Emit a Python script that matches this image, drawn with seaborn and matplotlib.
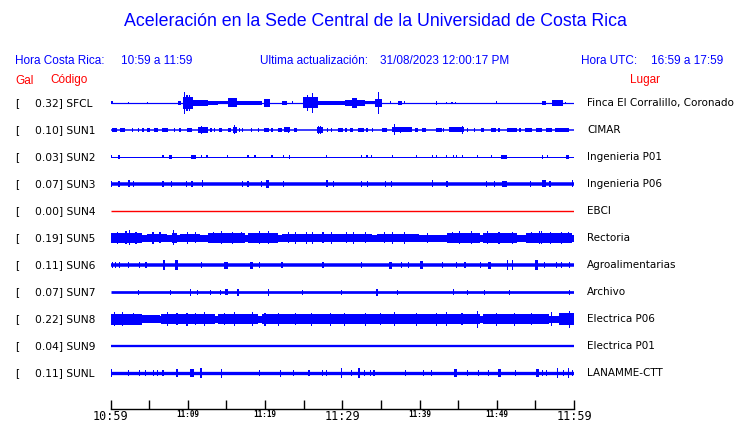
import matplotlib
matplotlib.use("Agg")
import matplotlib.pyplot as plt
import matplotlib.transforms as mtransforms
import seaborn as sns

# estaciones y valores
estaciones = ["SFCL", "SUN1", "SUN2", "SUN3", "SUN4", "SUN5", "SUN6", "SUN7", "SUN8", "SUN9", "SUNL"]
gal = [0.32, 0.10, 0.03, 0.07, 0.00, 0.19, 0.11, 0.07, 0.22, 0.04, 0.11]
lugares = ["Finca El Corralillo, Coronado", "CIMAR", "Ingenieria P01", "Ingenieria P06", "EBCI",
           "Rectoria", "Agroalimentarias", "Archivo", "Electrica P06", "Electrica P01", "LANAMME-CTT"]
# grosor de la traza en reposo (amplitud pico a pico)
banda = [1.2, 1.5, 1.0, 3.5, 1.4, 7.0, 3.5, 2.7, 7.0, 2.3, 3.3]

# minutos desde 10:59
ticks_min = [0, 5, 10, 15, 20, 25, 30, 35, 40, 45, 50, 55, 60]
etiquetas = ["10:59", "", "11:09", "", "11:19", "", "11:29", "", "11:39", "", "11:49", "", "11:59"]

# tramos con mas energia: (minuto inicio, minuto fin, amplitud)
seg_sfcl = [(0, 0.3, 1.5), (8.7, 9.1, 2), (9.4, 10.7, 6), (10.7, 12.6, 3.2), (12.6, 13.9, 2.3),
            (13.9, 15.2, 1.5), (15.2, 16.4, 4.5), (16.4, 19.6, 1.6), (19.9, 20.6, 3.8), (22.2, 22.8, 2),
            (24.9, 26.8, 5.5), (26.8, 30.3, 2.3), (30.3, 32.9, 3.2), (31.3, 31.9, 4.8), (32.9, 34.2, 1.5),
            (34.2, 35.2, 3.8), (37.2, 37.7, 2), (55.8, 56.4, 2), (57.2, 58.6, 3)]
seg_sun1 = [(0.2, 0.8, 2), (1.2, 1.9, 2), (4.7, 5.1, 2), (5.6, 6.1, 2), (6.7, 7.4, 2), (9.9, 10.5, 2),
            (11.3, 12.6, 3), (14.0, 14.4, 2), (15.2, 15.6, 2), (15.8, 16.4, 3), (19.9, 20.5, 2),
            (21.7, 22.2, 2), (22.4, 23.3, 2.5), (23.7, 24.2, 2), (26.7, 27.5, 3), (29.4, 30.1, 2),
            (30.3, 30.6, 2), (31.0, 31.4, 2), (32.1, 32.8, 2), (35.2, 35.8, 2), (36.4, 39.0, 2.5),
            (39.4, 39.8, 2), (40.3, 40.9, 2), (42.2, 42.9, 2), (43.8, 45.8, 2.5), (48.0, 48.3, 2),
            (49.2, 49.9, 2), (50.1, 50.4, 2), (51.3, 52.6, 2), (53.6, 54.6, 2), (55.1, 55.9, 2),
            (56.4, 57.2, 2), (57.6, 59.3, 2)]
seg_sun2 = [(7.6, 8.0, 2), (10.4, 11.1, 2), (23.1, 23.3, 2), (50.6, 51.3, 2), (58.9, 59.3, 2)]
seg_sun3 = [(10.4, 10.7, 3), (20.1, 20.5, 4), (27.9, 28.1, 3.5), (43.4, 43.7, 3), (50.7, 51.3, 3),
            (55.8, 56.4, 3.5)]
seg_sun4 = []
seg_sun5 = [(0, 4.1, 4.6), (4.7, 7.3, 4.4), (8.0, 8.6, 4.6), (9.0, 11.6, 4.2), (12.6, 17.4, 4.6),
            (17.8, 21.7, 4.6), (22.2, 30.3, 4.2), (29.7, 33.9, 4.2), (34.5, 39.9, 4.2), (43.6, 47.8, 4.6),
            (48.2, 52.6, 4.8), (53.8, 59.8, 4.6)]
seg_sun6 = [(6.8, 7.1, 5), (8.3, 8.7, 5), (14.7, 15.2, 3.5), (18.0, 18.4, 3.5), (36.1, 36.4, 3.5),
            (40.0, 40.4, 4), (48.9, 49.2, 3.5), (55.0, 55.4, 5)]
seg_sun7 = [(14.8, 15.2, 3), (44.3, 44.5, 3)]
seg_sun8 = [(0, 4.1, 5.5), (4.1, 6.4, 4), (6.6, 13.5, 4.6), (13.9, 19.1, 5), (19.6, 30.3, 4.6),
            (29.7, 42.6, 4.6), (42.6, 47.8, 5), (48.2, 56.8, 4.6), (58.1, 60, 6)]
seg_sun9 = []
seg_sunl = [(8.5, 8.7, 4), (10.3, 10.8, 4), (11.6, 11.8, 5), (32.0, 32.3, 5), (44.5, 44.9, 4),
            (50.1, 50.5, 4), (55.1, 55.5, 4)]

# picos aislados: (minuto, amplitud)
picos_sfcl = [(2.3, 1), (4.8, 1), (9.6, 11), (9.9, 8), (10.2, 8), (25.5, 8), (26.2, 10), (34.7, 11),
              (23.6, 1.5), (36.3, 1.5), (38.1, 1.5), (42.2, 2), (43.5, 1), (44.2, 1), (44.7, 1),
              (50.0, 1.5), (58.9, 1)]
picos_sun1 = [(2.8, 2), (3.6, 2), (4.2, 2), (8.3, 2), (9.0, 2), (11.8, 4), (13.0, 2), (13.5, 2),
              (16.0, 4.5), (16.7, 2), (17.1, 2), (18.3, 2), (19.2, 2), (20.9, 2), (23.0, 3), (26.9, 4),
              (27.2, 4), (28.1, 2), (28.6, 2), (33.2, 2), (33.9, 2), (36.8, 5.5), (37.5, 3), (43.1, 2),
              (45.6, 4), (46.2, 2), (47.1, 2), (53.0, 2)]
picos_sun2 = [(0.1, 1.5), (1.1, 2), (6.8, 1.5), (11.8, 1.5), (12.5, 1.5), (15.2, 1.5), (17.8, 1.5),
              (18.7, 1.5), (20.9, 1.5), (22.4, 1.5), (28.0, 1.5), (32.5, 1.5), (33.2, 1.5), (33.8, 1.5),
              (36.5, 1.5), (39.6, 1.5), (41.7, 1.5), (42.2, 1.5), (43.5, 1.5), (44.4, 1.5), (44.8, 1.5),
              (45.6, 1.5), (47.5, 1.5), (49.3, 1.5), (55.9, 2), (56.6, 1.5)]
picos_sun3 = [(0.1, 3), (1.1, 3), (2.4, 3.5), (3.0, 3), (6.8, 3), (7.9, 3), (9.8, 3), (11.9, 3.5),
              (17.1, 3), (17.8, 3), (19.6, 3), (22.4, 3), (28.9, 3), (32.5, 3), (33.3, 3), (35.6, 3),
              (36.4, 3), (41.7, 3.5), (48.7, 3), (49.7, 3), (54.4, 3), (56.9, 3), (59.8, 3.5)]
picos_sun4 = []
picos_sun5 = [(0.9, 6), (2.0, 6.5), (2.5, 7.5), (3.3, 6), (5.5, 6), (6.4, 5.5), (8.2, 7.5), (10.0, 6),
              (11.0, 5.5), (13.3, 5.5), (14.4, 6.5), (15.8, 6), (17.0, 5.5), (19.3, 6.5), (20.4, 6.5),
              (23.0, 5.5), (24.0, 6), (25.4, 6), (26.2, 6), (27.5, 5.5), (28.6, 6), (30.5, 5.5),
              (31.5, 6), (33.0, 5.5), (35.5, 5.5), (36.5, 6), (38.1, 6), (41.0, 5), (44.3, 5.5),
              (45.2, 6.5), (46.7, 6.5), (48.8, 6.5), (50.3, 6), (52.0, 6), (54.5, 5.5), (55.5, 6.5),
              (55.8, 6.5), (57.0, 6), (58.4, 6), (59.3, 5.5)]
picos_sun6 = [(0.3, 3), (0.7, 3), (1.2, 3), (2.3, 3), (3.7, 3), (4.6, 3), (11.8, 3), (19.3, 3), (22.2, 3),
              (27.5, 3), (32.5, 3), (37.7, 3), (38.6, 3), (43.0, 3), (44.8, 3), (45.9, 3), (47.9, 3),
              (51.4, 5), (52.0, 5), (56.2, 3), (57.7, 3), (58.4, 3), (59.4, 3)]
picos_sun7 = [(3.6, 2.5), (7.8, 2.5), (10.4, 3.5), (11.3, 2.5), (12.9, 2.5), (14.2, 2.5), (16.5, 3.5),
              (20.4, 3.5), (24.8, 2.5), (29.9, 2.5), (34.5, 3.5), (37.2, 2.5), (46.2, 2.5), (48.4, 2.5),
              (51.7, 2.5), (59.4, 2.5)]
picos_sun8 = [(0.5, 7), (1.5, 7), (3.0, 6), (7.4, 7), (8.6, 6), (9.9, 6.5), (11.0, 6), (12.2, 7),
              (14.8, 6), (16.1, 7), (18.4, 7), (20.0, 6.5), (21.7, 6.5), (24.0, 6), (26.0, 6.5),
              (28.5, 6.5), (30.3, 6.5), (33.0, 6.5), (35.0, 6), (36.8, 7), (39.6, 6.5), (42.2, 6.5),
              (43.5, 7), (45.5, 6), (47.5, 8.5), (50.0, 6.5), (52.3, 6.5), (54.5, 6), (57.1, 7),
              (59.4, 8.5)]
picos_sun9 = []
picos_sunl = [(0.1, 4), (2.3, 3), (3.7, 3), (4.5, 3), (5.6, 3), (6.1, 3), (6.8, 3), (14.4, 4.5), (19.3, 3),
              (22.0, 3.5), (23.7, 3), (25.7, 3), (27.4, 3), (28.0, 3), (29.9, 5), (31.2, 3), (32.9, 3),
              (33.7, 3), (34.1, 3), (38.2, 3), (40.5, 3), (41.6, 3), (46.2, 3), (47.6, 3), (48.9, 3),
              (52.4, 3), (55.9, 3), (56.4, 3), (57.9, 5), (58.6, 3), (59.3, 5), (59.8, 3)]

segmentos = [seg_sfcl, seg_sun1, seg_sun2, seg_sun3, seg_sun4, seg_sun5, seg_sun6, seg_sun7,
             seg_sun8, seg_sun9, seg_sunl]
picos = [picos_sfcl, picos_sun1, picos_sun2, picos_sun3, picos_sun4, picos_sun5, picos_sun6,
         picos_sun7, picos_sun8, picos_sun9, picos_sunl]

AZUL = "#0000ff"
ROJO = "#ff0000"
ESC = 1 / 27.0  # amplitud -> separacion entre trazas

sns.set_style("white")
plt.rcParams["font.family"] = ["DejaVu Sans"]

W, H = 740, 423
fig = plt.figure(figsize=(W / 100, H / 100), dpi=100)
ax = fig.add_axes([110.5 / W, (H - 409) / H, 463.5 / W, 321 / H])

for i, est in enumerate(estaciones):
    color = ROJO if gal[i] == 0 else AZUL
    sns.lineplot(x=[0, 60], y=[i, i], color=color, linewidth=banda[i] * 0.72,
                 solid_capstyle="butt", ax=ax)
    segs = segmentos[i]
    if segs:
        ax.bar([s[0] for s in segs], [2 * s[2] * ESC for s in segs],
               bottom=[i - s[2] * ESC for s in segs], width=[s[1] - s[0] for s in segs],
               align="edge", color=color, linewidth=0)
    pk = picos[i]
    if pk:
        ax.bar([p[0] for p in pk], [2 * p[1] * ESC for p in pk],
               bottom=[i - p[1] * ESC for p in pk], width=0.15,
               align="center", color=color, linewidth=0)

ax.set_xlim(0, 60)
ax.set_ylim(10 + 36 / 27, -15 / 27)
ax.set_yticks([])
ax.set_xlabel("")
ax.set_ylabel("")
for lado in ["top", "left", "right"]:
    ax.spines[lado].set_visible(False)
ax.spines["bottom"].set_color("black")
ax.spines["bottom"].set_linewidth(1.0)
ax.set_xticks(ticks_min)
ax.set_xticklabels(etiquetas)
ax.tick_params(axis="x", bottom=True, direction="in", length=6.5, width=1.0, pad=1,
               colors="black")
for k, lbl in enumerate(ax.get_xticklabels()):
    lbl.set_family("DejaVu Sans Mono")
    if k in (0, 6, 12):
        lbl.set_fontsize(8.5)
    else:
        lbl.set_fontsize(5.5)
        lbl.set_fontweight("bold")

# textos de encabezado
def fx(x):
    return x / W

def fy(y):
    return 1 - y / H

fig.text(fx(375), fy(22), "Aceleración en la Sede Central de la Universidad de Costa Rica",
         color=AZUL, fontsize=12.8, family="Liberation Sans", ha="center", va="center")
cab = dict(color=AZUL, fontsize=8.5, family="Liberation Sans", va="center")
fig.text(fx(15), fy(61), "Hora Costa Rica:", **cab)
fig.text(fx(121), fy(61), "10:59 a 11:59", **cab)
fig.text(fx(260), fy(61), "Ultima actualización:", **cab)
fig.text(fx(380), fy(61), "31/08/2023 12:00:17 PM", **cab)
fig.text(fx(581), fy(61), "Hora UTC:", **cab)
fig.text(fx(651), fy(61), "16:59 a 17:59", **cab)

roj = dict(color=ROJO, fontsize=8.5, family="Liberation Sans", va="center")
fig.text(fx(15), fy(80.5), "Gal", **roj)
fig.text(fx(50), fy(80.5), "Código", **roj)
fig.text(fx(630), fy(80.5), "Lugar", **roj)

trans = mtransforms.blended_transform_factory(fig.transFigure, ax.transData)
for i, est in enumerate(estaciones):
    ax.text(fx(15), i, "[", transform=trans, fontsize=7.7, va="center", color="black")
    ax.text(fx(35), i, f"{gal[i]:.2f}] {est}", transform=trans, fontsize=7.7, va="center", color="black")
    ax.text(fx(587), i, lugares[i], transform=trans, fontsize=7.5, va="center", color="black")

fig.savefig("out.png", dpi=100, facecolor="white")
